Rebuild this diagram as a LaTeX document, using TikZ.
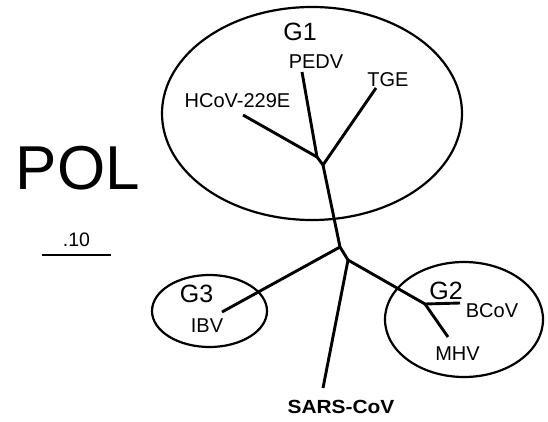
\documentclass[tikz,border=0pt]{standalone}
\usepackage{fontspec}
\setmainfont{Liberation Sans}
\begin{document}
\begin{tikzpicture}[x=1pt,y=-1pt,
	branch/.style={line width=2.9pt},
	group/.style={line width=2.2pt},
	virus/.style={inner sep=0pt,font=\fontsize{20}{20}\selectfont},
	clade/.style={inner sep=0pt,font=\fontsize{25}{25}\selectfont}]
\useasboundingbox (0,0) rectangle (548,422);
% branch points and tips
\coordinate (top) at (340,247);
\coordinate (mid) at (348,260);
\coordinate (g1n) at (323,165);
\coordinate (g1m) at (317,157);
\coordinate (g2n) at (425,304);
\coordinate (hcov) at (243,115);
\coordinate (pedv) at (302,72);
\coordinate (tge) at (376,88);
\coordinate (ibv) at (222,312);
\coordinate (sars) at (323,388);
\coordinate (bcov) at (460,303);
\coordinate (mhv) at (448,337);
% groups
\draw[group] (312,113.5) ellipse [x radius=150pt, y radius=106.5pt];
\draw[group] (209.5,311) ellipse [x radius=57.5pt, y radius=36pt];
\draw[group] (464,319.5) ellipse [x radius=79pt, y radius=57.5pt];
% tree
\draw[branch] (top) -- (g1n);
\draw[branch] (top) -- (mid);
\draw[branch] (top) -- (ibv);
\draw[branch] (mid) -- (sars);
\draw[branch] (mid) -- (g2n);
\draw[branch] (g1n) -- (g1m);
\draw[branch] (g1n) -- (tge);
\draw[branch] (g1m) -- (hcov);
\draw[branch] (g1m) -- (pedv);
\draw[branch] (g2n) -- (bcov);
\draw[branch] (g2n) -- (mhv);
% labels
\node[clade] (G1) at (300,32) {G1};
\node[clade] (G2) at (446,290.5) {G2};
\node[clade] (G3) at (196.5,294) {G3};
\node[virus] (lpedv) at (316,62) {PEDV};
\node[virus] (ltge) at (388,80) {TGE};
\node[virus] (lhcov) at (237.5,101) {HCoV-229E};
\node[virus] (libv) at (207,326) {IBV};
\node[virus] (lbcov) at (492,311) {BCoV};
\node[virus] (lmhv) at (457.5,353.5) {MHV};
\node[virus,font=\fontsize{19}{19}\selectfont\bfseries,xscale=1.1] (lsars) at (341,406.5) {SARS-CoV};
\node[inner sep=0pt,font=\fontsize{62}{62}\selectfont] (pol) at (78,168) {POL};
% scale
\coordinate (sa) at (42,255);
\coordinate (sb) at (111,255);
\draw[line width=2.2pt] (sa) -- (sb);
\node[virus,font=\fontsize{19.5}{19.5}\selectfont] (scale) at (76.5,240) {.10};
\end{tikzpicture}
\end{document}
